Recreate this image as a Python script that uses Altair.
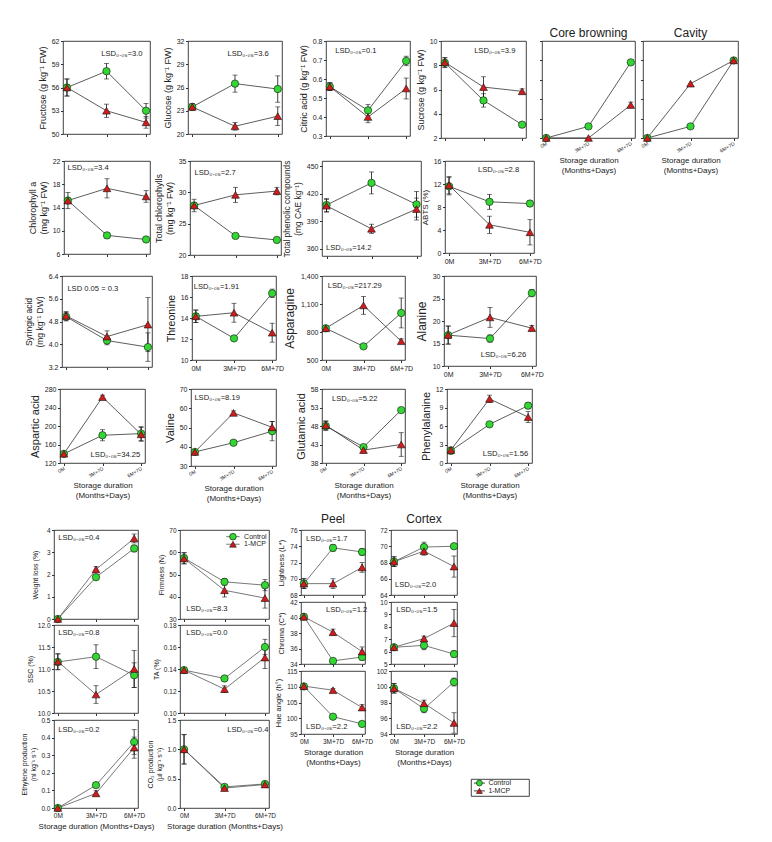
import altair as alt
import pandas as pd

FONT = "Liberation Sans"
GREEN = "#33d633"
RED = "#d01c1c"
EDGE = "#111111"
LINE = "#333333"
TXT = "#222222"

TIMES = [0, 1, 2]
TIME_LABELS = ["0M", "3M+7D", "6M+7D"]
XTITLE2 = ["Storage duration", "(Months+Days)"]
XTITLE1 = "Storage duration (Months+Days)"
SERIES = ["Control", "1-MCP"]

# ---------------- data ----------------
FRU_C = [56.0, 58.1, 53.0]; FRU_CE = [1.1, 1.0, 0.95]
FRU_M = [56.0, 53.0, 51.5]; FRU_ME = [1.1, 0.85, 0.75]
GLU_C = [23.5, 26.5, 25.8]; GLU_CE = [0.4, 1.1, 1.7]
GLU_M = [23.5, 21.0, 22.3]; GLU_ME = [0.4, 0.5, 1.2]
CIT_C = [0.56, 0.435, 0.695]; CIT_CE = [0.02, 0.03, 0.025]
CIT_M = [0.56, 0.40, 0.55]; CIT_ME = [0.02, 0.03, 0.055]
SUC_C = [8.2, 5.1, 3.1]; SUC_CE = [0.4, 0.55, 0.15]
SUC_M = [8.25, 6.2, 5.85]; SUC_ME = [0.4, 0.85, 0.2]
CORE_C = [0.0, 0.6, 3.9]; CORE_CE = [0.0, 0.0, 0.0]
CORE_M = [0.0, 0.0, 1.7]; CORE_ME = [0.0, 0.0, 0.15]
CAV_C = [0.0, 0.6, 4.0]; CAV_CE = [0.0, 0.0, 0.0]
CAV_M = [0.0, 2.8, 4.0]; CAV_ME = [0.0, 0.0, 0.15]

CHL_C = [15.2, 9.2, 8.5]; CHL_CE = [0.3, 0.4, 0.3]
CHL_M = [15.2, 17.3, 15.9]; CHL_ME = [1.4, 1.65, 1.0]
TCHL_C = [27.9, 23.05, 22.4]; TCHL_CE = [0.5, 0.3, 0.3]
TCHL_M = [27.9, 29.6, 30.2]; TCHL_ME = [1.0, 1.2, 0.6]
PHEN_C = [407.8, 432.0, 408.5]; PHEN_CE = [7, 12, 14]
PHEN_M = [407.0, 381.8, 403.4]; PHEN_ME = [7, 5, 12]
ABTS_C = [11.6, 8.9, 8.6]; ABTS_CE = [1.5, 1.3, 0.5]
ABTS_M = [11.8, 4.9, 3.6]; ABTS_ME = [1.5, 1.5, 2.2]

SYR_C = [4.97, 4.13, 3.90]; SYR_CE = [0.15, 0.15, 0.5]
SYR_M = [5.0, 4.27, 4.69]; SYR_ME = [0.15, 0.2, 0.95]
THR_C = [14.16, 12.06, 16.35]; THR_CE = [0.6, 0.2, 0.4]
THR_M = [14.16, 14.5, 12.6]; THR_ME = [0.6, 0.9, 0.9]
ASN_C = [840, 646, 1004]; ASN_CE = [20, 15, 160]
ASN_M = [840, 1085, 701]; ASN_ME = [20, 95, 25]
ALA_C = [16.85, 16.1, 26.2]; ALA_CE = [2.0, 0.8, 0.8]
ALA_M = [16.9, 20.8, 18.4]; ALA_ME = [2.0, 2.2, 0.6]

ASP_C = [139.7, 180.0, 183.6]; ASP_CE = [4, 12, 15]
ASP_M = [140.0, 262.5, 182.0]; ASP_ME = [4, 4, 15]
VAL_C = [37.3, 42.1, 48.1]; VAL_CE = [1, 1, 5]
VAL_M = [37.3, 57.6, 50.1]; VAL_ME = [1, 1, 3]
GLUT_C = [48.0, 42.3, 52.3]; GLUT_CE = [1.2, 0.5, 0.5]
GLUT_M = [48.2, 41.5, 43.0]; GLUT_ME = [1.2, 0.8, 3.2]
PHE_C = [1.98, 6.27, 9.3]; PHE_CE = [0.5, 0.2, 0.5]
PHE_M = [2.1, 10.4, 7.45]; PHE_ME = [0.5, 0.6, 0.9]

WL_C = [0.0, 1.88, 3.17]; WL_CE = [0.05, 0.1, 0.15]
WL_M = [0.0, 2.23, 3.62]; WL_ME = [0.05, 0.12, 0.2]
FIRM_C = [57.4, 46.7, 45.2]; FIRM_CE = [2.5, 1.5, 2.5]
FIRM_M = [57.2, 42.9, 39.4]; FIRM_ME = [2.5, 3.0, 4.5]
SSC_C = [11.16, 11.28, 10.86]; SSC_CE = [0.18, 0.27, 0.28]
SSC_M = [11.17, 10.42, 11.0]; SSC_ME = [0.18, 0.2, 0.42]
TA_C = [0.139, 0.1314, 0.160]; TA_CE = [0.002, 0.002, 0.007]
TA_M = [0.139, 0.1217, 0.1504]; TA_ME = [0.002, 0.003, 0.01]
ETH_C = [0.0, 0.13, 0.375]; ETH_CE = [0.005, 0.015, 0.07]
ETH_M = [0.0, 0.083, 0.343]; ETH_ME = [0.005, 0.015, 0.06]
CO2_C = [1.0, 0.36, 0.41]; CO2_CE = [0.25, 0.03, 0.03]
CO2_M = [1.0, 0.34, 0.40]; CO2_ME = [0.25, 0.03, 0.03]

LP_C = [69.4, 73.8, 73.3]; LP_CE = [0.6, 0.4, 0.4]
LP_M = [69.4, 69.4, 71.4]; LP_ME = [0.6, 0.6, 0.6]
LC_C = [68.1, 69.9, 70.0]; LC_CE = [0.6, 0.6, 0.2]
LC_M = [68.1, 69.4, 67.5]; LC_ME = [0.6, 0.5, 1.3]
CP_C = [40.1, 34.4, 34.9]; CP_CE = [0.3, 0.3, 0.4]
CP_M = [40.1, 38.1, 35.6]; CP_ME = [0.3, 0.4, 0.6]
CC_C = [6.35, 6.5, 5.8]; CC_CE = [0.15, 0.35, 0.25]
CC_M = [6.35, 7.05, 8.3]; CC_ME = [0.15, 0.2, 1.1]
HP_C = [110.1, 100.5, 98.2]; HP_CE = [0.5, 0.4, 0.8]
HP_M = [110.2, 108.9, 103.4]; HP_ME = [0.5, 0.5, 0.9]
HC_C = [99.8, 97.2, 100.6]; HC_CE = [0.6, 0.5, 0.5]
HC_M = [99.8, 97.9, 95.4]; HC_ME = [0.6, 0.4, 1.3]

LABEL_EXPR = ("datum.value == 0 ? '%s' : datum.value == 1 ? '%s' : '%s'"
              % tuple(TIME_LABELS))


def lsd(v):
    return "LSD\u2080.\u2080\u2085=" + v


_SP = pd.DataFrame({"z": [0]})


def sp(w, h=1):
    return (alt.Chart(_SP).mark_point(opacity=0)
            .encode(x=alt.value(0), y=alt.value(0))
            .properties(width=w, height=h,
                        view=alt.ViewBackground(stroke="transparent")))


def panel(c, ce, m, me, ydom, yticks, ytitle, lsd_text, lsd_pos, w, h,
          xmode="none", xtitle=None, yfmt=None, ylabels=True, ytsize=9.0,
          lsize=7.0, lsd_size=7.6, title=None, line_color=LINE,
          inner_legend=None, min_extent=8):
    rows = []
    for s, vals, errs in ((SERIES[0], c, ce), (SERIES[1], m, me)):
        for t, v, e in zip(TIMES, vals, errs):
            rows.append({"t": t, "v": v, "lo": v - e, "hi": v + e, "s": s})
    df = pd.DataFrame(rows)
    xs = alt.Scale(domain=[-0.1, 2.1], nice=False, zero=False)
    ys = alt.Scale(domain=list(ydom), nice=False, zero=False)
    xkw = dict(values=TIMES, grid=False, domain=False, tickSize=2.5,
               tickColor="#333", labelFontSize=lsize, labelColor=TXT,
               titleFontSize=8, titleFontWeight="normal", titleColor=TXT,
               labelPadding=2, titlePadding=3, labelFlush=False,
               labelOverlap=False, title=xtitle)
    if xmode == "none":
        xkw["labels"] = False
    elif xmode == "h":
        xkw.update(labelExpr=LABEL_EXPR, labelAngle=0)
    else:
        xkw.update(labelExpr=LABEL_EXPR, labelAngle=330, labelFontSize=5,
                   labelAlign="right", labelBaseline="middle")
    xa = alt.Axis(**xkw)
    ykw = dict(values=list(yticks), title=ytitle, labels=ylabels, grid=False,
               domain=False, tickSize=2.5, tickColor="#333",
               labelFontSize=lsize, labelColor=TXT, titleFontSize=ytsize,
               titleFontWeight="normal", titleColor=TXT, labelPadding=1.5,
               titlePadding=4, labelFlush=False, labelOverlap=False,
               minExtent=min_extent)
    if yfmt:
        ykw["format"] = yfmt
    ya = alt.Axis(**ykw)
    X = alt.X("t:Q", scale=xs, axis=xa)

    def Y(f):
        return alt.Y(f, scale=ys, axis=ya)

    base = alt.Chart(df)
    lines = base.mark_line(color=line_color, strokeWidth=0.8).encode(
        x=X, y=Y("v:Q"), detail="s:N")
    eb = base.transform_filter("datum.hi > datum.lo")
    err = eb.mark_rule(color=EDGE, strokeWidth=0.8).encode(
        x=X, y=Y("lo:Q"), y2="hi:Q")
    cap1 = eb.mark_tick(color=EDGE, orient="horizontal", size=5,
                        thickness=0.8).encode(x=X, y=Y("lo:Q"))
    cap2 = eb.mark_tick(color=EDGE, orient="horizontal", size=5,
                        thickness=0.8).encode(x=X, y=Y("hi:Q"))
    pc = base.transform_filter("datum.s == 'Control'").mark_point(
        shape="circle", filled=True, fill=GREEN, stroke=EDGE,
        strokeWidth=0.6, size=55, opacity=1).encode(x=X, y=Y("v:Q"))
    pm = base.transform_filter("datum.s == '1-MCP'").mark_point(
        shape="triangle-up", filled=True, fill=RED, stroke=EDGE,
        strokeWidth=0.6, size=60, opacity=1).encode(x=X, y=Y("v:Q"))
    layers = [lines, err, cap1, cap2, pc, pm]
    if lsd_text:
        fx, fy = lsd_pos
        tdf = pd.DataFrame({"x": [-0.1 + fx * 2.2],
                            "y": [ydom[0] + fy * (ydom[1] - ydom[0])],
                            "label": [lsd_text]})
        layers.append(alt.Chart(tdf).mark_text(
            align="left", baseline="middle", fontSize=lsd_size, color=TXT
        ).encode(x=alt.X("x:Q", scale=xs, axis=xa), y=Y("y:Q"),
                 text="label:N"))
    if inner_legend:
        (lx1, lx2, lxs, lxt, fys) = inner_legend
        ldf = pd.DataFrame({"s": SERIES,
                            "y": [ydom[0] + f * (ydom[1] - ydom[0]) for f in fys]})
        ldf["x1"] = -0.1 + lx1 * 2.2
        ldf["x2"] = -0.1 + lx2 * 2.2
        ldf["xs"] = -0.1 + lxs * 2.2
        ldf["xt"] = -0.1 + lxt * 2.2
        lb = alt.Chart(ldf)
        layers.append(lb.mark_rule(color=line_color, strokeWidth=0.8).encode(
            x=alt.X("x1:Q", scale=xs, axis=xa), x2="x2:Q", y=Y("y:Q")))
        layers.append(lb.transform_filter("datum.s == 'Control'").mark_point(
            shape="circle", filled=True, fill=GREEN, stroke=EDGE,
            strokeWidth=0.6, size=45, opacity=1).encode(
            x=alt.X("xs:Q", scale=xs, axis=xa), y=Y("y:Q")))
        layers.append(lb.transform_filter("datum.s == '1-MCP'").mark_point(
            shape="triangle-up", filled=True, fill=RED, stroke=EDGE,
            strokeWidth=0.6, size=45, opacity=1).encode(
            x=alt.X("xs:Q", scale=xs, axis=xa), y=Y("y:Q")))
        layers.append(lb.mark_text(align="left", baseline="middle",
                                   fontSize=7, color=TXT).encode(
            x=alt.X("xt:Q", scale=xs, axis=xa), y=Y("y:Q"), text="s:N"))
    props = dict(width=w, height=h)
    if title:
        props["title"] = alt.TitleParams(title, fontSize=12,
                                         fontWeight="normal", offset=1,
                                         color=TXT)
    return alt.layer(*layers).properties(**props)


def box_legend(w, h):
    ldf = pd.DataFrame({"s": SERIES, "y": [0.76, 0.3]})
    xs = alt.Scale(domain=[0, 1], nice=False)
    ys = alt.Scale(domain=[0, 1], nice=False)
    ax = alt.Axis(labels=False, ticks=False, domain=False, grid=False, title=None)
    X = lambda v: alt.X(datum=v, scale=xs, axis=ax)
    Yv = alt.Y("y:Q", scale=ys, axis=ax)
    lb = alt.Chart(ldf)
    ln = lb.mark_rule(color=EDGE, strokeWidth=0.8).encode(
        x=X(0.05), x2=alt.X2(datum=0.24), y=Yv)
    pc = lb.transform_filter("datum.s == 'Control'").mark_point(
        shape="circle", filled=True, fill=GREEN, stroke=EDGE,
        strokeWidth=0.6, size=35, opacity=1).encode(x=X(0.145), y=Yv)
    pm = lb.transform_filter("datum.s == '1-MCP'").mark_point(
        shape="triangle-up", filled=True, fill=RED, stroke=EDGE,
        strokeWidth=0.6, size=35, opacity=1).encode(x=X(0.145), y=Yv)
    tx = lb.mark_text(align="left", baseline="middle", fontSize=7,
                      color=TXT).encode(x=X(0.3), y=Yv, text="s:N")
    return alt.layer(ln, pc, pm, tx).properties(width=w, height=h)


# ---------------- panels ----------------
SUGAR = "(g kg\u207b\u00b9 FW)"
fru = panel(FRU_C, FRU_CE, FRU_M, FRU_ME, (50, 62), [50, 53, 56, 59, 62],
            "Fructose " + SUGAR, lsd("3.0"), (0.44, 0.86), 87, 93)
glu = panel(GLU_C, GLU_CE, GLU_M, GLU_ME, (20, 32), [20, 23, 26, 29, 32],
            "Glucose " + SUGAR, lsd("3.6"), (0.42, 0.86), 94, 93)
cit = panel(CIT_C, CIT_CE, CIT_M, CIT_ME, (0.3, 0.8),
            [0.3, 0.4, 0.5, 0.6, 0.7, 0.8], "Citric acid " + SUGAR,
            lsd("0.1"), (0.11, 0.89), 84, 95, yfmt=".1f")
suc = panel(SUC_C, SUC_CE, SUC_M, SUC_ME, (2, 10), [2, 4, 6, 8, 10],
            "Sucrose " + SUGAR, lsd("3.9"), (0.39, 0.9), 85, 97)
core = panel(CORE_C, CORE_CE, CORE_M, CORE_ME, (0, 5), [0, 1, 2, 3, 4, 5],
             None, None, None, 93, 97, xmode="rot", xtitle=XTITLE2,
             ylabels=False, title="Core browning", min_extent=0)
cav = panel(CAV_C, CAV_CE, CAV_M, CAV_ME, (0, 5), [0, 1, 2, 3, 4, 5],
            None, None, None, 95, 97, xmode="rot", xtitle=XTITLE2,
            ylabels=False, title="Cavity", min_extent=0)

chl = panel(CHL_C, CHL_CE, CHL_M, CHL_ME, (6, 22), [6, 10, 14, 18, 22],
            ["Chlorophyll a", "(mg kg\u207b\u00b9 FW)"], lsd("3.4"),
            (0.04, 0.92), 86, 93)
tchl = panel(TCHL_C, TCHL_CE, TCHL_M, TCHL_ME, (20, 35), [20, 25, 30, 35],
             ["Total chlorophylls", "(mg kg\u207b\u00b9 FW)"], lsd("2.7"),
             (0.05, 0.87), 91, 94)
phen = panel(PHEN_C, PHEN_CE, PHEN_M, PHEN_ME, (352, 456), [360, 390, 420, 450],
             ["Total phenolic compounds", "(mg CAE kg\u207b\u00b9)"],
             lsd("14.2"), (0.04, 0.08), 99, 95, ytsize=8.4)
abts = panel(ABTS_C, ABTS_CE, ABTS_M, ABTS_ME, (0, 16), [0, 4, 8, 12, 16],
             "ABTS (%)", lsd("2.8"), (0.37, 0.9), 89, 92, xmode="h",
             ytsize=8)

syr = panel(SYR_C, SYR_CE, SYR_M, SYR_ME, (3.2, 6.4), [3.2, 4.0, 4.8, 5.6, 6.4],
            ["Syringic acid", "(mg kg\u207b\u00b9 DW)"], "LSD 0.05 = 0.3",
            (0.06, 0.86), 90, 91, yfmt=".1f", ytsize=8.5)
thr = panel(THR_C, THR_CE, THR_M, THR_ME, (10, 18), [10, 12, 14, 16, 18],
            "Threonine", lsd("1.91"), (0.02, 0.87), 84, 84, xmode="h",
            ytsize=10.5)
asn = panel(ASN_C, ASN_CE, ASN_M, ASN_ME, (500, 1400), [500, 800, 1100, 1400],
            "Asparagine", lsd("217.29"), (0.07, 0.88), 83, 84, xmode="h",
            ytsize=12)
ala = panel(ALA_C, ALA_CE, ALA_M, ALA_ME, (10, 30), [10, 15, 20, 25, 30],
            "Alanine", lsd("6.26"), (0.40, 0.125), 92, 90, xmode="h",
            ytsize=12)

asp = panel(ASP_C, ASP_CE, ASP_M, ASP_ME, (120, 280), [120, 160, 200, 240, 280],
            "Aspartic acid", lsd("34.25"), (0.36, 0.11), 85, 74, xmode="rot",
            xtitle=XTITLE2, ytsize=11)
val = panel(VAL_C, VAL_CE, VAL_M, VAL_ME, (30, 70), [30, 40, 50, 60, 70],
            "Valine", lsd("8.19"), (0.04, 0.88), 85, 77, xmode="rot",
            xtitle=XTITLE2, ytsize=11)
glut = panel(GLUT_C, GLUT_CE, GLUT_M, GLUT_ME, (38, 58), [38, 43, 48, 53, 58],
             "Glutamic acid", lsd("5.22"), (0.12, 0.87), 83, 74, xmode="rot",
             xtitle=XTITLE2, ytsize=11)
phe = panel(PHE_C, PHE_CE, PHE_M, PHE_ME, (0, 12), [0, 3, 6, 9, 12],
            "Phenylalanine", lsd("1.56"), (0.42, 0.12), 85, 74, xmode="rot",
            xtitle=XTITLE2, ytsize=11)

BL = dict(line_color="#555555", lsize=6.5, ytsize=7, min_extent=12)
wl = panel(WL_C, WL_CE, WL_M, WL_ME, (0, 4), [0, 1, 2, 3, 4],
           "Weight loss (%)", lsd("0.4"), (0.05, 0.91), 84, 89, **BL)
firm = panel(FIRM_C, FIRM_CE, FIRM_M, FIRM_ME, (30, 70), [30, 40, 50, 60, 70],
             "Firmness (N)", lsd("8.3"), (0.07, 0.11), 89, 89,
             inner_legend=(0.52, 0.67, 0.595, 0.72, (0.925, 0.84)), **BL)
ssc = panel(SSC_C, SSC_CE, SSC_M, SSC_ME, (10, 12), [10, 10.5, 11, 11.5, 12],
            "SSC (%)", lsd("0.8"), (0.05, 0.91), 84, 88, yfmt=".1f", **BL)
ta = panel(TA_C, TA_CE, TA_M, TA_ME, (0.10, 0.18),
           [0.10, 0.12, 0.14, 0.16, 0.18], "TA (%)", lsd("0.0"),
           (0.07, 0.91), 89, 88, yfmt=".2f", **BL)
eth = panel(ETH_C, ETH_CE, ETH_M, ETH_ME, (0, 0.5),
            [0, 0.1, 0.2, 0.3, 0.4, 0.5],
            ["Ethylene production", "(nl kg\u207b\u00b9 s\u207b\u00b9)"],
            lsd("0.2"), (0.05, 0.89), 84, 88, xmode="h", xtitle=XTITLE1,
            yfmt=".1f", **BL)
co2 = panel(CO2_C, CO2_CE, CO2_M, CO2_ME, (0, 1.5), [0, 0.5, 1.0, 1.5],
            ["CO\u2082 production", "(\u00b5l kg\u207b\u00b9 s\u207b\u00b9)"],
            lsd("0.4"), (0.53, 0.89), 89, 88, xmode="h", xtitle=XTITLE1,
            yfmt=".1f", **BL)

PCS = dict(BL, ytsize=7.5)
lp = panel(LP_C, LP_CE, LP_M, LP_ME, (68, 76), [68, 70, 72, 74, 76],
           "Lightness (L*)", lsd("1.7"), (0.08, 0.86), 64, 65, title="Peel", **PCS)
lc = panel(LC_C, LC_CE, LC_M, LC_ME, (64, 72), [64, 66, 68, 70, 72],
           None, lsd("2.0"), (0.06, 0.15), 66, 65, title="Cortex", **PCS)
cp = panel(CP_C, CP_CE, CP_M, CP_ME, (34, 42), [34, 36, 38, 40, 42],
           "Chroma (C*)", lsd("1.2"), (0.39, 0.87), 64, 62, **PCS)
cc = panel(CC_C, CC_CE, CC_M, CC_ME, (5, 10), [5, 6, 7, 8, 9, 10],
           None, lsd("1.5"), (0.08, 0.87), 66, 62, **PCS)
hp = panel(HP_C, HP_CE, HP_M, HP_ME, (95, 115), [95, 100, 105, 110, 115],
           "Hue angle (h\u00b0)", lsd("2.2"), (0.08, 0.11), 64, 63,
           xmode="h", xtitle=XTITLE2, **PCS)
hc = panel(HC_C, HC_CE, HC_M, HC_ME, (94, 102), [94, 96, 98, 100, 102],
           None, lsd("2.2"), (0.08, 0.11), 66, 63, xmode="h",
           xtitle=XTITLE2, **PCS)

# ---------------- layout ----------------
FL = dict(spacing=0, bounds="flush")


def row(*cells):
    return alt.hconcat(*cells, **FL)


row1 = row(sp(10), fru, sp(38), glu, sp(44), cit, sp(31), suc, sp(16), core,
           sp(8), cav)
row2 = row(sp(11), chl, sp(40), tchl, sp(41), phen, sp(24), abts)
row3 = row(sp(9), syr, sp(40), thr, sp(46), asn, sp(39), ala)
row4 = row(sp(7), asp, sp(46), val, sp(46), glut, sp(42), phe)

left_part = alt.vconcat(
    row(sp(1), wl, sp(42), firm), sp(1, 95),
    row(sp(1), ssc, sp(42), ta), sp(1, 95),
    row(sp(1), eth, sp(42), co2), **FL)

pc_part = alt.vconcat(
    row(sp(1), lp, sp(26), lc), sp(1, 72),
    row(sp(1), cp, sp(26), cc), sp(1, 69),
    row(sp(1), hp, sp(26), hc), sp(1, 108),
    row(sp(171), box_legend(58, 17)), **FL)

bottom = alt.hconcat(left_part, pc_part, spacing=247, bounds="flush")

chart = (alt.vconcat(row1, sp(1, 120), row2, sp(1, 115), row3, sp(1, 113),
                     row4, sp(1, 141), bottom, **FL)
         .properties(padding={"left": 20, "top": 26, "right": 5, "bottom": 5},
                     background="white")
         .configure(font=FONT)
         .configure_view(stroke="#111111", strokeWidth=0.8))

chart.save("out.html", embed_options={"renderer": "svg", "actions": False})
